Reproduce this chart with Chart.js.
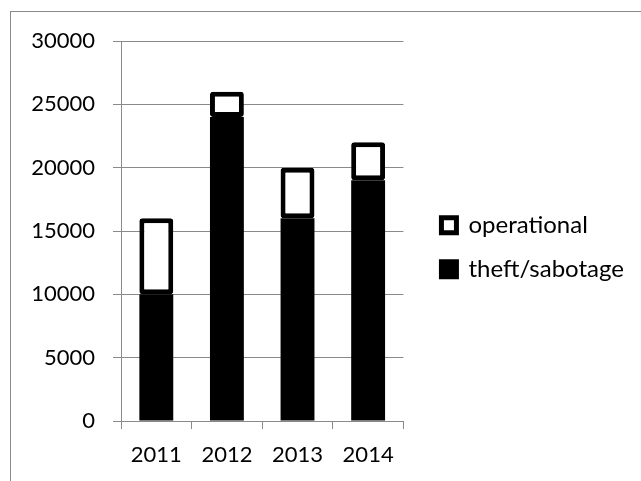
<!DOCTYPE html>
<html>
<head>
<meta charset="utf-8">
<script src="https://cdn.jsdelivr.net/npm/chart.js@4.4.0/dist/chart.umd.min.js"></script>
<style>
  html, body { margin:0; padding:0; background:#fff; }
  #frame { position:absolute; left:10px; top:11px; width:640px; height:480px;
           border-left:1px solid #8a8a8a; border-top:1px solid #8a8a8a; }
  #wrap { position:absolute; left:0; top:0; width:641px; height:481px; }
</style>
</head>
<body>
<div id="frame"></div>
<div id="wrap"><canvas id="chart" width="641" height="481"></canvas></div>
<script>
// données
const years = ['2011', '2012', '2013', '2014'];
const theft = [10000, 24000, 16000, 19000];
const operational = [6000, 2000, 4000, 3000];
const yTicks = [0, 5000, 10000, 15000, 20000, 25000, 30000];

const FONT = { family: 'Lato, "Noto Sans", sans-serif', size: 22 };
const LEG_FONT = { family: 'Lato, "Noto Sans", sans-serif', size: 24 };
const GRID = '#8a8a8a';

new Chart(document.getElementById('chart'), {
  type: 'bar',
  data: {
    labels: years,
    datasets: [
      { label: 'theft/sabotage', data: theft, backgroundColor: '#000', borderColor: '#000',
        borderWidth: 0, borderRadius: 3, borderSkipped: false },
      { label: 'operational', data: operational, backgroundColor: '#fff', borderColor: '#000',
        borderWidth: 5, borderRadius: 3, borderSkipped: false }
    ]
  },
  options: {
    responsive: false,
    animation: false,
    devicePixelRatio: 1,
    layout: { padding: { top: 41, left: 0, right: 7, bottom: 0 } },
    datasets: { bar: { categoryPercentage: 1, barPercentage: 0.48 } },
    plugins: {
      tooltip: { enabled: false },
      legend: {
        position: 'right',
        fullSize: false,
        reverse: true,
        maxWidth: 300,
        title: { display: true, text: ' ', padding: 9, font: { size: 12 } },
        labels: {
          color: '#000', font: LEG_FONT, boxWidth: 15, boxHeight: 15, padding: 20, borderRadius: 2,
          generateLabels: chart => Chart.defaults.plugins.legend.labels.generateLabels(chart)
            .map(l => Object.assign(l, { lineWidth: 5, strokeStyle: '#000' }))
        }
      }
    },
    scales: {
      x: {
        stacked: true,
        grid: { drawOnChartArea: false, color: GRID, tickLength: 8, offset: true },
        border: { color: GRID, width: 1 },
        ticks: { color: '#000', font: FONT, padding: 13 },
        afterFit: s => { s.height = 60; }
      },
      y: {
        stacked: true,
        min: 0, max: 30000,
        afterBuildTicks: s => { s.ticks = yTicks.map(v => ({ value: v })); },
        grid: { color: GRID, tickLength: 8 },
        border: { color: GRID, width: 1 },
        ticks: { color: '#000', font: FONT, padding: 18, callback: v => String(v) },
        afterFit: s => { s.width = 121; }
      },
      gap: {
        type: 'linear', position: 'right', display: true,
        grid: { display: false }, border: { display: false }, ticks: { display: false },
        afterFit: s => { s.width = 18; }
      }
    }
  }
});
</script>
</body>
</html>
